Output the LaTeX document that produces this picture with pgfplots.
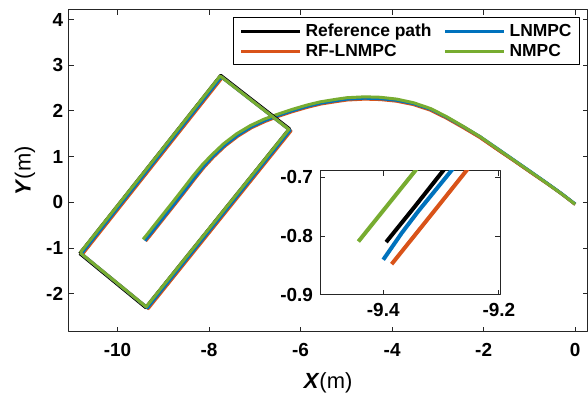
\documentclass[border=0pt]{standalone}
\usepackage{fontspec}
\setmainfont{Liberation Sans}
\usepackage{pgfplots}
\pgfplotsset{compat=1.18}
\definecolor{mblue}{rgb}{0,0.447,0.741}
\definecolor{morange}{rgb}{0.85,0.325,0.098}
\definecolor{mgreen}{rgb}{0.466,0.674,0.188}
\definecolor{axgray}{rgb}{0.15,0.15,0.15}

\pgfplotstableread{
x y
-9.395 -0.810
-9.345 -0.749
-9.296 -0.688
-9.039 -0.365
-8.769 -0.025
-8.519 0.295
-8.319 0.555
-8.124 0.797
-7.929 1.009
-7.666 1.258
-7.385 1.48
-7.087 1.659
-6.789 1.798
-6.493 1.911
-6.194 2.011
-5.854 2.111
-5.565 2.181
-5.197 2.24
-4.988 2.27
-4.60 2.29
-4.26 2.28
-3.903 2.24
-3.535 2.161
-3.155 2.036
-2.807 1.857
-2.445 1.651
-2.085 1.432
-1.716 1.172
-1.353 0.926
-0.993 0.676
-0.62 0.42
-0.30 0.19
0 -0.04
}\refpath

\pgfplotstableread{
x y
-9.400 -0.840
-9.368 -0.7945
-9.3395 -0.7576
-9.2818 -0.688
-9.031 -0.371
-8.761 -0.031
-8.511 0.289
-8.311 0.549
-8.116 0.79
-7.922 1.002
-7.659 1.25
-7.376 1.468
-7.082 1.65
-6.785 1.789
-6.49 1.902
-6.191 2.002
-5.852 2.101
-5.563 2.171
-5.195 2.23
-4.987 2.26
-4.60 2.28
-4.26 2.27
-3.904 2.235
-3.535 2.161
-3.155 2.036
-2.805 1.861
-2.443 1.656
-2.08 1.44
-1.707 1.184
-1.347 0.934
-0.987 0.684
-0.617 0.424
-0.297 0.194
0 -0.035
}\lnmpc

\pgfplotstableread{
x y
-9.3855 -0.8475
-9.306 -0.750
-9.2558 -0.688
-9.015 -0.383
-8.745 -0.043
-8.495 0.277
-8.295 0.537
-8.101 0.777
-7.907 0.988
-7.646 1.236
-7.364 1.452
-7.072 1.633
-6.776 1.77
-6.483 1.883
-6.184 1.983
-5.846 2.082
-5.558 2.152
-5.193 2.21
-4.985 2.24
-4.60 2.26
-4.26 2.25
-3.906 2.215
-3.54 2.141
-3.162 2.017
-2.815 1.844
-2.453 1.639
-2.091 1.424
-1.719 1.168
-1.356 0.922
-0.996 0.672
-0.623 0.416
-0.30 0.19
0 -0.045
}\rflnmpc

\pgfplotstableread{
x y
-9.443 -0.809
-9.394 -0.749
-9.345 -0.689
-9.07 -0.34
-8.80 0.00
-8.55 0.32
-8.35 0.58
-8.15 0.82
-7.95 1.03
-7.686 1.28
-7.40 1.50
-7.10 1.68
-6.80 1.82
-6.50 1.93
-6.20 2.03
-5.86 2.13
-5.57 2.20
-5.20 2.26
-4.99 2.29
-4.60 2.31
-4.26 2.30
-3.90 2.26
-3.53 2.18
-3.15 2.05
-2.80 1.87
-2.44 1.66
-2.08 1.44
-1.71 1.18
-1.35 0.93
-0.99 0.68
-0.62 0.42
-0.30 0.19
0 -0.04
}\nmpc

\pgfplotstableread{
x y
-10.829 -1.119
-7.746 2.782
-6.245 1.614
-9.387 -2.302
-10.829 -1.119
}\refrect

\pgfplotstableread{
x y
-10.790 -1.125
-7.731 2.744
-6.230 1.576
-9.348 -2.308
-10.790 -1.125
}\lnrect

\pgfplotstableread{
x y
-10.770 -1.140
-7.711 2.729
-6.210 1.561
-9.328 -2.323
-10.770 -1.140
}\rfrect

\pgfplotstableread{
x y
-10.817 -1.103
-7.758 2.766
-6.257 1.598
-9.375 -2.286
-10.817 -1.103
}\nrect

\pgfplotsset{
  mstyle/.style={
    scale only axis,
    axis line style={axgray, line width=1bp},
    every tick/.style={axgray, line width=1bp},
    tick align=inside,
    major tick length=5bp,
    ticklabel style={font=\bfseries\fontsize{19}{22}\selectfont, text=black},
    axis background/.style={fill=white},
    line join=round,
  },
  pk/.style={black, line width=3bp},
  pb/.style={mblue, line width=3bp},
  po/.style={morange, line width=3bp},
  pg/.style={mgreen, line width=3bp},
}

\begin{document}
\begin{tikzpicture}
\path[use as bounding box] (0,0) rectangle (588bp,394bp);
\begin{axis}[mstyle,
  at={(68.6bp,62.3bp)}, anchor=south west,
  width=518.9bp, height=321.7bp,
  xmin=-11.07, xmax=0.27, ymin=-2.83, ymax=4.21,
  xtick={-10,-8,-6,-4,-2,0}, xticklabels={-10,-8,-6,-4,-2,0},
  ytick={-2,-1,0,1,2,3,4}, yticklabels={-2,-1,0,1,2,3,4},
  xticklabel style={yshift=-8bp},
  yticklabel style={xshift=-2bp},
  xlabel={\textbf{\textit{X}}(m)},
  ylabel={\textbf{\textit{Y}}(m)},
  xlabel style={font=\fontsize{22}{26}\selectfont, at={(axis description cs:0.5,-0.178)}, anchor=base},
  ylabel style={font=\fontsize{22}{26}\selectfont, at={(axis description cs:-0.084,0.5)}, anchor=center, rotate=0},
  legend columns=2, transpose legend,
  legend cell align=left,
  legend image code/.code={\draw[#1] (0bp,0bp) -- (59bp,0bp);},
  legend style={at={(axis description cs:0.9855,0.978)}, anchor=north east,
    draw=black, line width=0.8bp, fill=white,
    font=\bfseries\fontsize{17.5}{20}\selectfont,
    inner xsep=6bp, inner ysep=4.5bp, row sep=2.5bp,
    /tikz/every odd column/.append style={column sep=2bp},
    /tikz/every even column/.append style={column sep=10bp},
  },
]
\addplot[pk] table {\refpath};
\addlegendentry{Reference path}
\addplot[po] table {\rflnmpc};
\addlegendentry{RF-LNMPC}
\addplot[pb] table {\lnmpc};
\addlegendentry{LNMPC}
\addplot[pg] table {\nmpc};
\addlegendentry{NMPC}
\addplot[pk, forget plot] table {\refrect};
\addplot[po, forget plot] table {\rfrect};
\addplot[pb, forget plot] table {\lnrect};
\addplot[pg, forget plot] table {\nrect};
\end{axis}

\begin{axis}[mstyle,
  at={(320bp,99bp)}, anchor=south west,
  width=180bp, height=124bp,
  xmin=-9.5094, xmax=-9.198, ymin=-0.9, ymax=-0.689,
  xtick={-9.4,-9.2}, xticklabels={-9.4,-9.2},
  ytick={-0.9,-0.8,-0.7}, yticklabels={-0.9,-0.8,-0.7},
  xticklabel style={yshift=-5bp},
  yticklabel style={xshift=-3.5bp},
]
\addplot[pk, line width=4bp] table {\refpath};
\addplot[po, line width=4bp] table {\rflnmpc};
\addplot[pb, line width=4bp] table {\lnmpc};
\addplot[pg, line width=4bp] table {\nmpc};
\end{axis}
\end{tikzpicture}
\end{document}
